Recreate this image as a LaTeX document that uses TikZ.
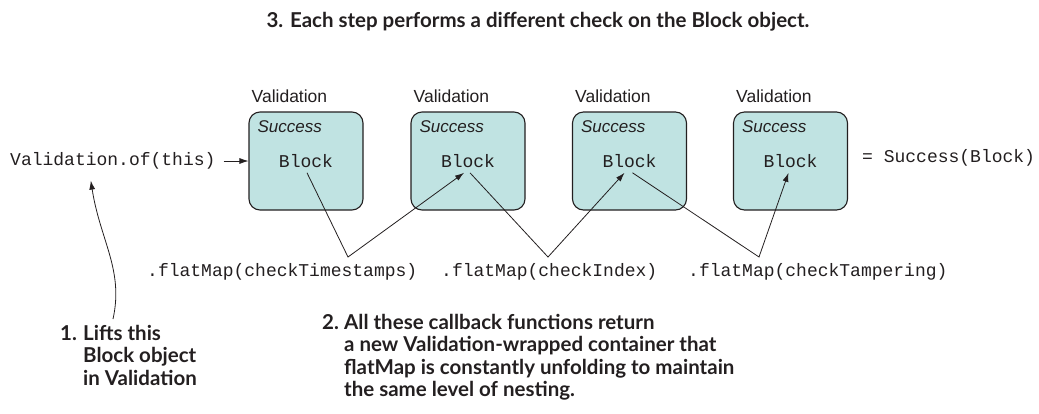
\documentclass[tikz,border=0pt]{standalone}
\usepackage{fontspec}
\setmainfont{Liberation Sans}
\setmonofont{Liberation Mono}
\newfontfamily\notefont{Lato}
\usetikzlibrary{arrows.meta, positioning}
\definecolor{boxteal}{HTML}{C0E3E2}
\definecolor{inkgray}{HTML}{231F20}

\begin{document}
\begin{tikzpicture}[
    x=1pt, y=-1pt,
    >={Latex[length=9pt,width=6pt]},
    vbox/.style={
        draw=inkgray,
        line width=1.1pt,
        fill=boxteal,
        rounded corners=11pt,
        minimum width=114pt,
        minimum height=98pt
    },
    blk/.style={font=\fontsize{18}{20}\ttfamily, text=inkgray, inner sep=5pt},
    succ/.style={font=\fontsize{17}{20}\itshape, text=inkgray, inner sep=0pt, anchor=base west},
    vlab/.style={font=\fontsize{17.5}{20}\selectfont, text=inkgray, inner sep=0pt, anchor=base west},
    code/.style={font=\fontsize{18}{20}\ttfamily, text=inkgray, inner sep=3pt, anchor=west},
    note/.style={font=\fontsize{20.5}{22.5}\notefont\bfseries, text=inkgray, inner sep=0pt, align=left},
    conn/.style={->, line width=0.8pt, draw=inkgray}
]
\useasboundingbox (0,0) rectangle (1039,413);

\node[note, anchor=base] (title) at (538,27)
    {3. Each step performs a different check on the Block object.};

% the four Validation containers
\foreach \i/\x in {1/306, 2/468, 3/629.5, 4/790.5} {
    \node[vbox] (b\i) at (\x,161) {};
    \node[blk] (blk\i) at (b\i.center) {Block};
    \node[succ] (s\i) at ([shift={(9,21)}]b\i.north west) {Success};
    \node[vlab] (l\i) at ([shift={(3,-9)}]b\i.north west) {Validation};
}

\node[code] (vof) at (7,161) {Validation.of(this)};
\node[code] (res) at (859,158) {= Success(Block)};

\node[code] (fm1) at (144,272) {.flatMap(checkTimestamps)};
\node[code] (fm2) at (438,272) {.flatMap(checkIndex)};
\node[code] (fm3) at (685,272) {.flatMap(checkTampering)};

\coordinate (v1) at (348,257);
\coordinate (v2) at (548,257);
\coordinate (v3) at (759,257);

\node[note, anchor=north west] (n1) at (60,325)
    {\makebox[23pt][l]{1.}Lifts this\\
     \hspace*{23pt}Block object\\
     \hspace*{23pt}in Validation};
\node[note, anchor=north west] (n2) at (322,314)
    {\makebox[22pt][l]{2.}All these callback functions return\\
     \hspace*{22pt}a new Validation-wrapped container that\\
     \hspace*{22pt}flatMap is constantly unfolding to maintain\\
     \hspace*{22pt}the same level of nesting.};

\draw[conn] ([xshift=5pt]vof.east) -- (b1.west);
\foreach \i/\j/\a/\b in {1/2/1/-4, 2/3/2/-5, 3/4/3/-2}
    \draw[conn] ([xshift=\a pt]blk\i.south) -- (v\i) -- ([xshift=\b pt]blk\j.south);
\draw[conn] ([shift={(53,-6)}]n1.north west) .. controls (124,270) and (100,240) .. ([shift={(-22,8)}]vof.south);
\end{tikzpicture}
\end{document}
